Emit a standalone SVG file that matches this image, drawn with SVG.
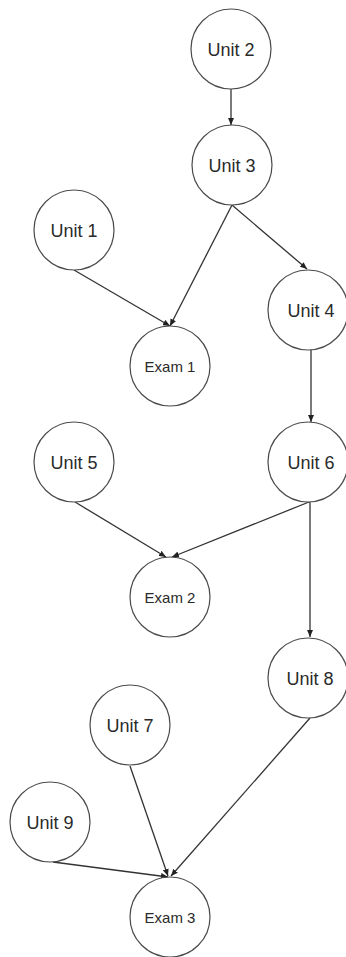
<svg xmlns="http://www.w3.org/2000/svg" width="346" height="957" viewBox="0 0 346 957">
  <style>
    .node circle { fill: #ffffff; stroke: #4a4a4a; stroke-width: 1.2; }
    .node text { font-family: "Liberation Sans", Arial, sans-serif; fill: #2a2a2a; text-anchor: middle; }
    .unit text { font-size: 18px; }
    .exam text { font-size: 15px; }
    #edges line { stroke: #333333; stroke-width: 1.3; marker-end: url(#arrow); }
  </style>
  <defs>
    <marker id="arrow" markerUnits="userSpaceOnUse" markerWidth="8" markerHeight="6" refX="7" refY="3" orient="auto">
      <path d="M0,0 L7,3 L0,6 z" fill="#222222"/>
    </marker>
  </defs>
  <rect width="346" height="957" fill="#ffffff"/>

  <!-- prerequisite links -->
  <g id="edges">
    <line x1="231" y1="89" x2="231" y2="125"/>
    <line x1="232" y1="205" x2="170" y2="326"/>
    <line x1="232" y1="205" x2="307" y2="269"/>
    <line x1="74" y1="270" x2="170" y2="326"/>
    <line x1="311" y1="350" x2="311" y2="422"/>
    <line x1="75" y1="502" x2="166" y2="557"/>
    <line x1="309" y1="502" x2="172" y2="557"/>
    <line x1="310" y1="502" x2="310" y2="637"/>
    <line x1="130" y1="766" x2="168" y2="876"/>
    <line x1="310" y1="718" x2="171" y2="876"/>
    <line x1="53" y1="862" x2="168" y2="877"/>
  </g>

  <g id="unit2" class="node unit"><circle cx="231" cy="49" r="40"/><text x="231" y="55.5">Unit 2</text></g>
  <g id="unit3" class="node unit"><circle cx="232" cy="165" r="40"/><text x="232" y="171.5">Unit 3</text></g>
  <g id="unit1" class="node unit"><circle cx="74" cy="230" r="40"/><text x="74" y="236.5">Unit 1</text></g>
  <g id="unit4" class="node unit"><circle cx="308" cy="310" r="40"/><text x="311" y="316.5">Unit 4</text></g>
  <g id="exam1" class="node exam"><circle cx="170" cy="366" r="40"/><text x="170" y="371.5">Exam 1</text></g>
  <g id="unit5" class="node unit"><circle cx="74" cy="462" r="40"/><text x="74" y="468.5">Unit 5</text></g>
  <g id="unit6" class="node unit"><circle cx="308" cy="462" r="40"/><text x="311" y="468.5">Unit 6</text></g>
  <g id="exam2" class="node exam"><circle cx="170" cy="597" r="40"/><text x="170" y="602.5">Exam 2</text></g>
  <g id="unit8" class="node unit"><circle cx="308" cy="678" r="40"/><text x="310" y="684.5">Unit 8</text></g>
  <g id="unit7" class="node unit"><circle cx="130" cy="725" r="40"/><text x="130" y="731.5">Unit 7</text></g>
  <g id="unit9" class="node unit"><circle cx="50" cy="822" r="40"/><text x="50" y="828.5">Unit 9</text></g>
  <g id="exam3" class="node exam"><circle cx="170" cy="917" r="40"/><text x="170" y="922.5">Exam 3</text></g>
</svg>
